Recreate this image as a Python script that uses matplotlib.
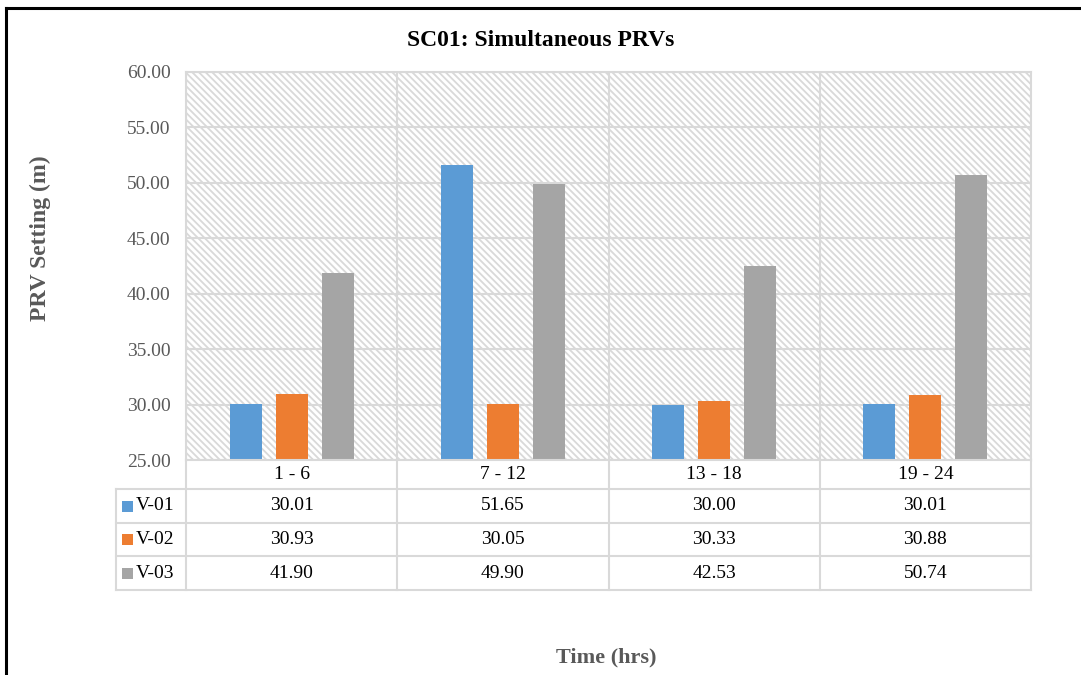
import matplotlib
matplotlib.use("Agg")
import matplotlib.pyplot as plt
from matplotlib.patches import Rectangle
from matplotlib.lines import Line2D
import numpy as np

categories = ["1 - 6", "7 - 12", "13 - 18", "19 - 24"]
series_names = ["V-01", "V-02", "V-03"]
v01 = [30.01, 51.65, 30.00, 30.01]
v02 = [30.93, 30.05, 30.33, 30.88]
v03 = [41.90, 49.90, 42.53, 50.74]
series_values = [v01, v02, v03]
colors = ["#5B9BD5", "#ED7D31", "#A5A5A5"]
yticks = [25, 30, 35, 40, 45, 50, 55, 60]

plt.rcParams['font.family'] = ['Liberation Serif', 'DejaVu Serif']
plt.rcParams['hatch.linewidth'] = 1.3

W, H = 1081, 675
fig = plt.figure(figsize=(W / 100, H / 100), dpi=100)

def fx(x):
    return x / W

def fy(y):
    return 1 - y / H

ax_l, ax_r, ax_t, ax_b = 186, 1031, 72, 460
ax = fig.add_axes([fx(ax_l), fy(ax_b), fx(ax_r - ax_l), fy(ax_t) - fy(ax_b)])

grid_c = "#d9d9d9"
# hatched background
bg = Rectangle((0, 0), 1, 1, transform=ax.transAxes, facecolor="white",
               edgecolor="#d9d9d9", linewidth=0, hatch="\\" * 5, zorder=0.2)
ax.add_patch(bg)

x = np.arange(len(categories))
bw = 0.152
off = 0.218
for i, (name, vals) in enumerate(zip(series_names, series_values)):
    ax.bar(x + (i - 1) * off, np.array(vals) - 25, bottom=25, width=bw,
           color=colors[i], zorder=2)

ax.set_xlim(-0.5, len(categories) - 0.5)
ax.set_ylim(25, 60)
ax.set_yticks(yticks)
ax.set_yticklabels([f"{t:.2f}" for t in yticks], fontsize=14, color="#595959")
ax.set_xticks(np.arange(-0.5, len(categories), 1.0))
ax.set_xticklabels([])
ax.tick_params(axis='both', length=0)
ax.tick_params(axis='y', pad=11)
ax.set_axisbelow(True)
ax.grid(True, color=grid_c, linewidth=1.5, zorder=0.5)
for s in ax.spines.values():
    s.set_color(grid_c)
    s.set_linewidth(1.5)

# Table
row_y = [460, 489, 523, 556, 590]
leg_l = 116
col_x = [186 + (ax_r - ax_l) * k / len(categories) for k in range(len(categories) + 1)]

def hline(y, x0, x1):
    fig.add_artist(Line2D([fx(x0), fx(x1)], [fy(y), fy(y)], color=grid_c, lw=1.5))

def vline(xx, y0, y1):
    fig.add_artist(Line2D([fx(xx), fx(xx)], [fy(y0), fy(y1)], color=grid_c, lw=1.5))

for y in row_y[1:]:
    hline(y, leg_l, ax_r)
for xx in col_x:
    vline(xx, row_y[0], row_y[-1])
vline(leg_l, row_y[1], row_y[-1])

for j, cat in enumerate(categories):
    cx = (col_x[j] + col_x[j + 1]) / 2
    fig.text(fx(cx), fy((row_y[0] + row_y[1]) / 2), cat, ha="center", va="center",
             fontsize=14, color="black")

for i, (name, vals) in enumerate(zip(series_names, series_values)):
    cy = (row_y[i + 1] + row_y[i + 2]) / 2
    fig.add_artist(Rectangle((fx(122), fy(cy + 5.5)), fx(11), fy(cy - 5.5) - fy(cy + 5.5),
                             facecolor=colors[i], edgecolor="none"))
    fig.text(fx(136), fy(cy), name, ha="left", va="center", fontsize=14, color="black")
    for j, v in enumerate(vals):
        cx = (col_x[j] + col_x[j + 1]) / 2
        fig.text(fx(cx), fy(cy), f"{v:.2f}", ha="center", va="center",
                 fontsize=14, color="black")

# Titles / labels
fig.text(fx(541), fy(41), "SC01: Simultaneous PRVs", ha="center", va="center",
         fontsize=17, fontweight="bold", color="black")
fig.text(fx(40), fy(238), "PRV Setting (m)", ha="center", va="center", rotation=90,
         fontsize=17, fontweight="bold", color="#595959")
fig.text(fx(606), fy(657), "Time (hrs)", ha="center", va="center",
         fontsize=16, fontweight="bold", color="#595959")

# outer border (top and left)
fig.add_artist(Line2D([fx(6), fx(W)], [fy(8), fy(8)], color="black", lw=2.2))
fig.add_artist(Line2D([fx(6), fx(6)], [fy(8), fy(H)], color="black", lw=2.2))

fig.savefig("out.png", dpi=100)
